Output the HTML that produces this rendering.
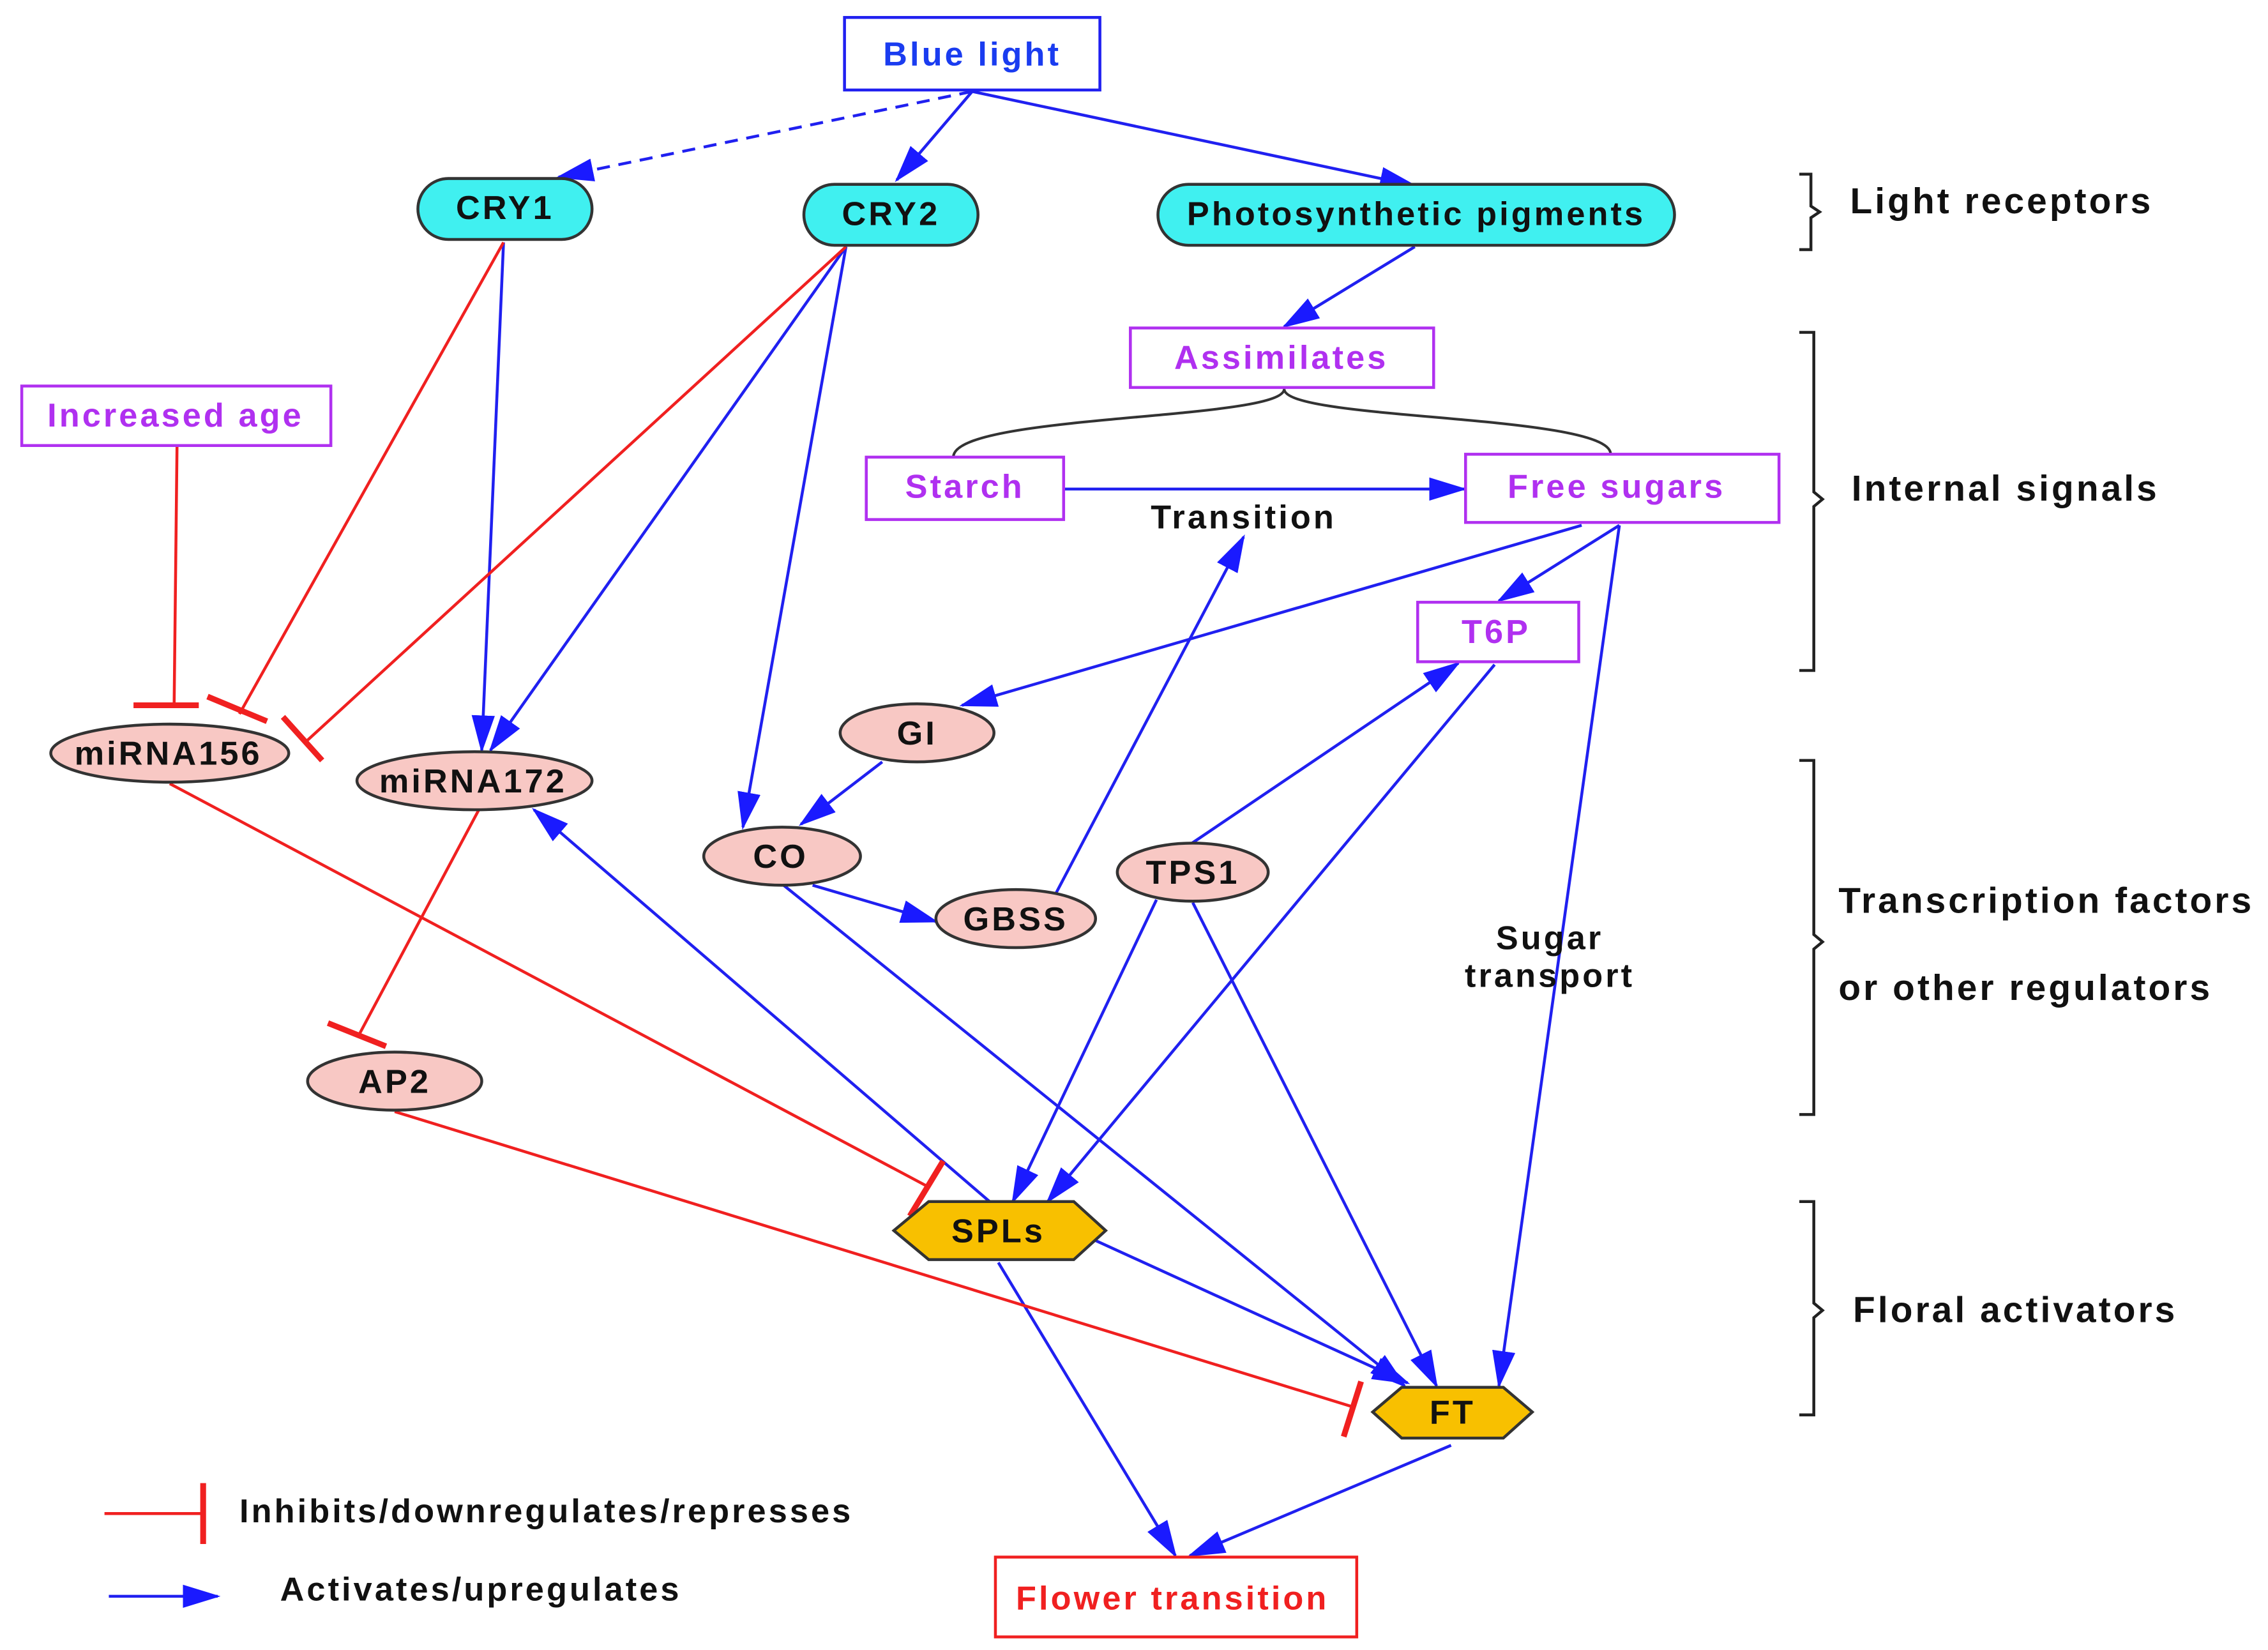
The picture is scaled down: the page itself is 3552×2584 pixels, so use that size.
<!DOCTYPE html>
<html><head><meta charset="utf-8"><style>
html,body{margin:0;padding:0;background:#fff;}
svg{display:block;}
text{font-family:"Liberation Sans",Arial,sans-serif;font-weight:bold;letter-spacing:1.8px;}
</style></head><body>
<svg width="3552" height="2584" viewBox="0 0 1563 1137" xmlns="http://www.w3.org/2000/svg">
<defs>
<marker id="a" markerWidth="26" markerHeight="16" refX="24" refY="8" orient="auto" markerUnits="userSpaceOnUse">
<path d="M0,0 L26,8 L0,16 z" fill="#1a1aff"/></marker>
</defs>
<rect width="1563" height="1137" fill="#fff"/>
<g stroke="#2020f0" stroke-width="2" fill="none" marker-end="url(#a)">
<line x1="670" y1="63" x2="385" y2="122" stroke-dasharray="9,6"/>
<line x1="670" y1="63" x2="618" y2="124"/>
<line x1="670" y1="63" x2="975" y2="128"/>
<line x1="975" y1="170" x2="885" y2="225"/>
<line x1="733" y1="337" x2="1009" y2="337"/>
<line x1="728" y1="615" x2="857" y2="370"/>
<line x1="1090" y1="362" x2="663" y2="486"/>
<line x1="1116" y1="362" x2="1033" y2="414"/>
<line x1="1116" y1="362" x2="1033" y2="955"/>
<line x1="1030" y1="458" x2="722" y2="828"/>
<line x1="820" y1="582" x2="1005" y2="457"/>
<line x1="797" y1="620" x2="698" y2="828"/>
<line x1="822" y1="622" x2="990" y2="955"/>
<line x1="347" y1="167" x2="332" y2="517"/>
<line x1="583" y1="170" x2="338" y2="517"/>
<line x1="583" y1="170" x2="512" y2="570"/>
<line x1="608" y1="525" x2="552" y2="568"/>
<line x1="560" y1="610" x2="645" y2="635"/>
<line x1="540" y1="610" x2="968" y2="955"/>
<line x1="682" y1="828" x2="368" y2="558"/>
<line x1="740" y1="848" x2="970" y2="953"/>
<line x1="688" y1="870" x2="810" y2="1072"/>
<line x1="1000" y1="996" x2="820" y2="1072"/>
<line x1="75" y1="1100" x2="150" y2="1100"/>
</g>
<g stroke="#f02020" stroke-width="2" fill="none">
<line x1="122" y1="307" x2="120" y2="486"/><line x1="92" y1="486" x2="137" y2="486" stroke-width="4"/>
<line x1="347" y1="167" x2="165" y2="492"/><line x1="143" y1="480" x2="184" y2="497" stroke-width="4"/>
<line x1="583" y1="170" x2="212" y2="510"/><line x1="195" y1="494" x2="222" y2="524" stroke-width="4"/>
<line x1="117" y1="540" x2="640" y2="818"/><line x1="627" y1="838" x2="650" y2="800" stroke-width="4"/>
<line x1="330" y1="558" x2="248" y2="712"/><line x1="226" y1="705" x2="266" y2="721" stroke-width="4"/>
<line x1="272" y1="766" x2="934" y2="970"/><line x1="926" y1="990" x2="938" y2="952" stroke-width="4"/>
<line x1="72" y1="1043" x2="140" y2="1043"/><line x1="140" y1="1022" x2="140" y2="1064" stroke-width="4"/>
</g>
<path d="M885,268 C885,290 657,285 657,315 M885,268 C885,290 1110,285 1110,313" stroke="#333" stroke-width="1.8" fill="none"/>
<g fill="none" stroke="#222" stroke-width="2">
<path d="M1240,120 h8 v22 l6,4 l-6,4 v22 h-8"/>
<path d="M1240,229 h10 v110 l6,5 l-6,5 v113 h-10"/>
<path d="M1240,524 h10 v120 l6,5 l-6,5 v114 h-10"/>
<path d="M1240,828 h10 v70 l6,5 l-6,5 v67 h-10"/>
</g>
<rect x="582" y="12" width="176" height="50" fill="#fff" stroke="#2020f0" stroke-width="2"/>
<g fill="#fff" stroke="#b030f0" stroke-width="2">
<rect x="779" y="226" width="209" height="41"/>
<rect x="15" y="266" width="213" height="41"/>
<rect x="597" y="315" width="136" height="43"/>
<rect x="1010" y="313" width="216" height="47"/>
<rect x="977" y="415" width="111" height="41"/>
</g>
<rect x="686" y="1073" width="249" height="55" fill="#fff" stroke="#f02020" stroke-width="2"/>
<g fill="#40f0f0" stroke="#333" stroke-width="2">
<rect x="288" y="123" width="120" height="42" rx="21"/>
<rect x="554" y="127" width="120" height="42" rx="21"/>
<rect x="798" y="127" width="356" height="42" rx="21"/>
</g>
<g fill="#f8c8c4" stroke="#333" stroke-width="2">
<ellipse cx="632" cy="505" rx="53" ry="20"/>
<ellipse cx="117" cy="519" rx="82" ry="20"/>
<ellipse cx="327" cy="538" rx="81" ry="20"/>
<ellipse cx="539" cy="590" rx="54" ry="20"/>
<ellipse cx="700" cy="633" rx="55" ry="20"/>
<ellipse cx="822" cy="601" rx="52" ry="20"/>
<ellipse cx="272" cy="745" rx="60" ry="20"/>
</g>
<g fill="#f8c000" stroke="#333" stroke-width="2">
<polygon points="616,848 640,828 740,828 762,848 740,868 640,868"/>
<polygon points="946,973 966,956 1036,956 1056,973 1036,991 966,991"/>
</g>
<g font-size="23" text-anchor="middle">
<text x="670" y="45" fill="#1a3cf0">Blue light</text>
<text x="348" y="151" fill="#111">CRY1</text>
<text x="614" y="155" fill="#111">CRY2</text>
<text x="976" y="155" fill="#111">Photosynthetic pigments</text>
<text x="883" y="254" fill="#b030f0">Assimilates</text>
<text x="121" y="294" fill="#b030f0">Increased age</text>
<text x="665" y="343" fill="#b030f0">Starch</text>
<text x="1114" y="343" fill="#b030f0">Free sugars</text>
<text x="857" y="364" fill="#111">Transition</text>
<text x="1031" y="443" fill="#b030f0">T6P</text>
<text x="632" y="513" fill="#111">GI</text>
<text x="116" y="527" fill="#111">miRNA156</text>
<text x="326" y="546" fill="#111">miRNA172</text>
<text x="538" y="598" fill="#111">CO</text>
<text x="700" y="641" fill="#111">GBSS</text>
<text x="822" y="609" fill="#111">TPS1</text>
<text x="272" y="753" fill="#111">AP2</text>
<text x="1068" y="654" fill="#111">Sugar</text>
<text x="1068" y="680" fill="#111">transport</text>
<text x="688" y="856" fill="#111">SPLs</text>
<text x="1001" y="981" fill="#111">FT</text>
<text x="808" y="1109" fill="#f02020">Flower transition</text>
</g>
<g font-size="25" fill="#111">
<text x="1275" y="147">Light receptors</text>
<text x="1276" y="345">Internal signals</text>
<text x="1267" y="629">Transcription factors</text>
<text x="1267" y="689">or other regulators</text>
<text x="1277" y="911">Floral activators</text>
</g>
<g font-size="23" fill="#111">
<text x="165" y="1049">Inhibits/downregulates/represses</text>
<text x="193" y="1103">Activates/upregulates</text>
</g>
</svg>
</body></html>
